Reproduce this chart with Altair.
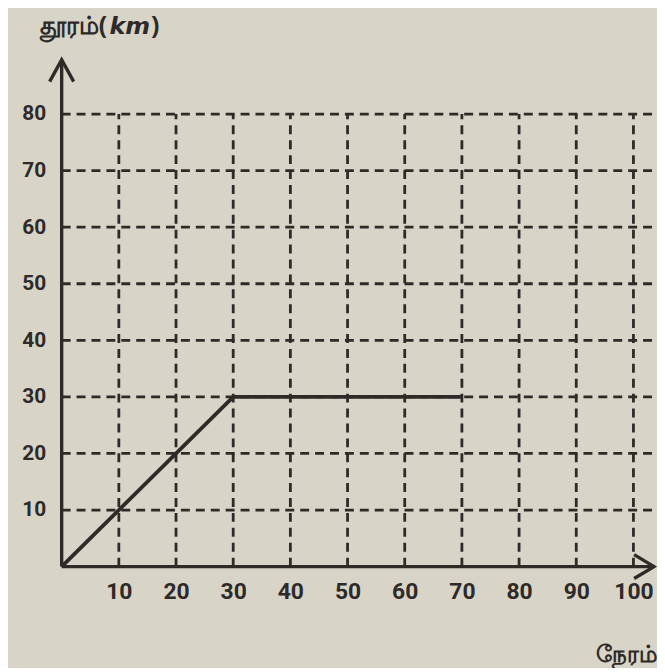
import altair as alt
import pandas as pd

# ---- data ----
time_min = [0, 30, 70]          # நேரம்
distance_km = [0, 30, 30]       # தூரம் (km)
x_ticks = [10, 20, 30, 40, 50, 60, 70, 80, 90, 100]
y_ticks = [10, 20, 30, 40, 50, 60, 70, 80]
X_MAX = 103.6
Y_MAX = 89.6
GRID_TOP = 80

INK = "#2e2a27"
BG = "#d8d4c8"

xs = alt.Scale(domain=[0, X_MAX], nice=False, zero=True)
ys = alt.Scale(domain=[0, Y_MAX], nice=False, zero=True)

line_df = pd.DataFrame({"t": time_min, "d": distance_km})
vgrid = pd.DataFrame({"x": x_ticks, "y0": [0] * len(x_ticks), "y1": [GRID_TOP] * len(x_ticks)})
hgrid = pd.DataFrame({"y": y_ticks, "x0": [0] * len(y_ticks), "x1": [X_MAX] * len(y_ticks)})
xaxis_df = pd.DataFrame({"x0": [0], "x1": [X_MAX], "y": [0]})
yaxis_df = pd.DataFrame({"y0": [0], "y1": [Y_MAX], "x": [0]})
up_df = pd.DataFrame({"x": [0], "y": [Y_MAX]})
right_df = pd.DataFrame({"x": [X_MAX], "y": [0]})

dash = [9, 6]

v_rules = alt.Chart(vgrid).mark_rule(color=INK, strokeWidth=2.8, strokeDash=dash).encode(
    x=alt.X("x:Q", scale=xs), y=alt.Y("y0:Q", scale=ys), y2="y1:Q")
h_rules = alt.Chart(hgrid).mark_rule(color=INK, strokeWidth=2.8, strokeDash=dash).encode(
    y=alt.Y("y:Q", scale=ys), x=alt.X("x0:Q", scale=xs), x2="x1:Q")

x_axis_line = alt.Chart(xaxis_df).mark_rule(color=INK, strokeWidth=3.4).encode(
    x=alt.X("x0:Q", scale=xs,
            axis=alt.Axis(values=x_ticks, title=None, domain=False, ticks=False, grid=False,
                          labelFontSize=23, labelFont="Roboto", labelFontWeight="bold",
                          labelColor=INK, labelPadding=14, labelFlush=False)),
    x2="x1:Q", y=alt.Y("y:Q", scale=ys))
y_axis_line = alt.Chart(yaxis_df).mark_rule(color=INK, strokeWidth=3.4).encode(
    y=alt.Y("y0:Q", scale=ys,
            axis=alt.Axis(values=y_ticks, title=None, domain=False, ticks=False, grid=False,
                          labelFontSize=21, labelFont="Roboto", labelFontWeight="bold",
                          labelColor=INK, labelPadding=16, labelFlush=False)),
    y2="y1:Q", x=alt.X("x:Q", scale=xs))

up_arrow = alt.Chart(up_df).mark_point(
    shape="M-0.55,1L0,0L0.55,1", filled=False, stroke=INK, strokeWidth=3.4,
    size=1936, opacity=1, strokeJoin="miter").encode(
    x=alt.X("x:Q", scale=xs), y=alt.Y("y:Q", scale=ys))
right_arrow = alt.Chart(right_df).mark_point(
    shape="M-1,-0.6L0,0L-1,0.6", filled=False, stroke=INK, strokeWidth=3.4,
    size=1600, opacity=1, strokeJoin="miter").encode(
    x=alt.X("x:Q", scale=xs), y=alt.Y("y:Q", scale=ys))

path = alt.Chart(line_df).mark_line(color=INK, strokeWidth=3.8).encode(
    x=alt.X("t:Q", scale=xs), y=alt.Y("d:Q", scale=ys))

# axis titles: "தூரம்(" + italic "km" + ")"
t1 = alt.Chart(pd.DataFrame({"label": ["தூரம்("]})).mark_text(
    font="Noto Sans", fontSize=25, fontWeight="bold", color=INK, align="left", baseline="alphabetic"
).encode(text="label:N", x=alt.value(-22), y=alt.value(-26))
t2 = alt.Chart(pd.DataFrame({"label": ["km"]})).mark_text(
    font="DejaVu Sans", fontSize=24, fontStyle="italic", fontWeight="bold", color=INK,
    align="left", baseline="alphabetic"
).encode(text="label:N", x=alt.value(48), y=alt.value(-26))
t3 = alt.Chart(pd.DataFrame({"label": [")"]})).mark_text(
    font="Noto Sans", fontSize=25, fontWeight="bold", color=INK, align="left", baseline="alphabetic"
).encode(text="label:N", x=alt.value(90), y=alt.value(-26))
x_title = alt.Chart(pd.DataFrame({"label": ["நேரம்"]})).mark_text(
    font="Noto Sans", fontSize=23, fontWeight="bold", color=INK, align="right", baseline="alphabetic"
).encode(text="label:N", x=alt.value(600), y=alt.value(606))

chart = alt.layer(
    h_rules, v_rules, x_axis_line, y_axis_line, up_arrow, right_arrow, path, t1, t2, t3, x_title
).properties(
    width=596, height=510,
    padding={"left": 54, "top": 50, "right": 3, "bottom": 100},
    autosize=alt.AutoSizeParams(type="none"),
    background=BG,
).configure_view(stroke=None)

chart.save("out.html", embed_options={"renderer": "svg", "actions": False})
